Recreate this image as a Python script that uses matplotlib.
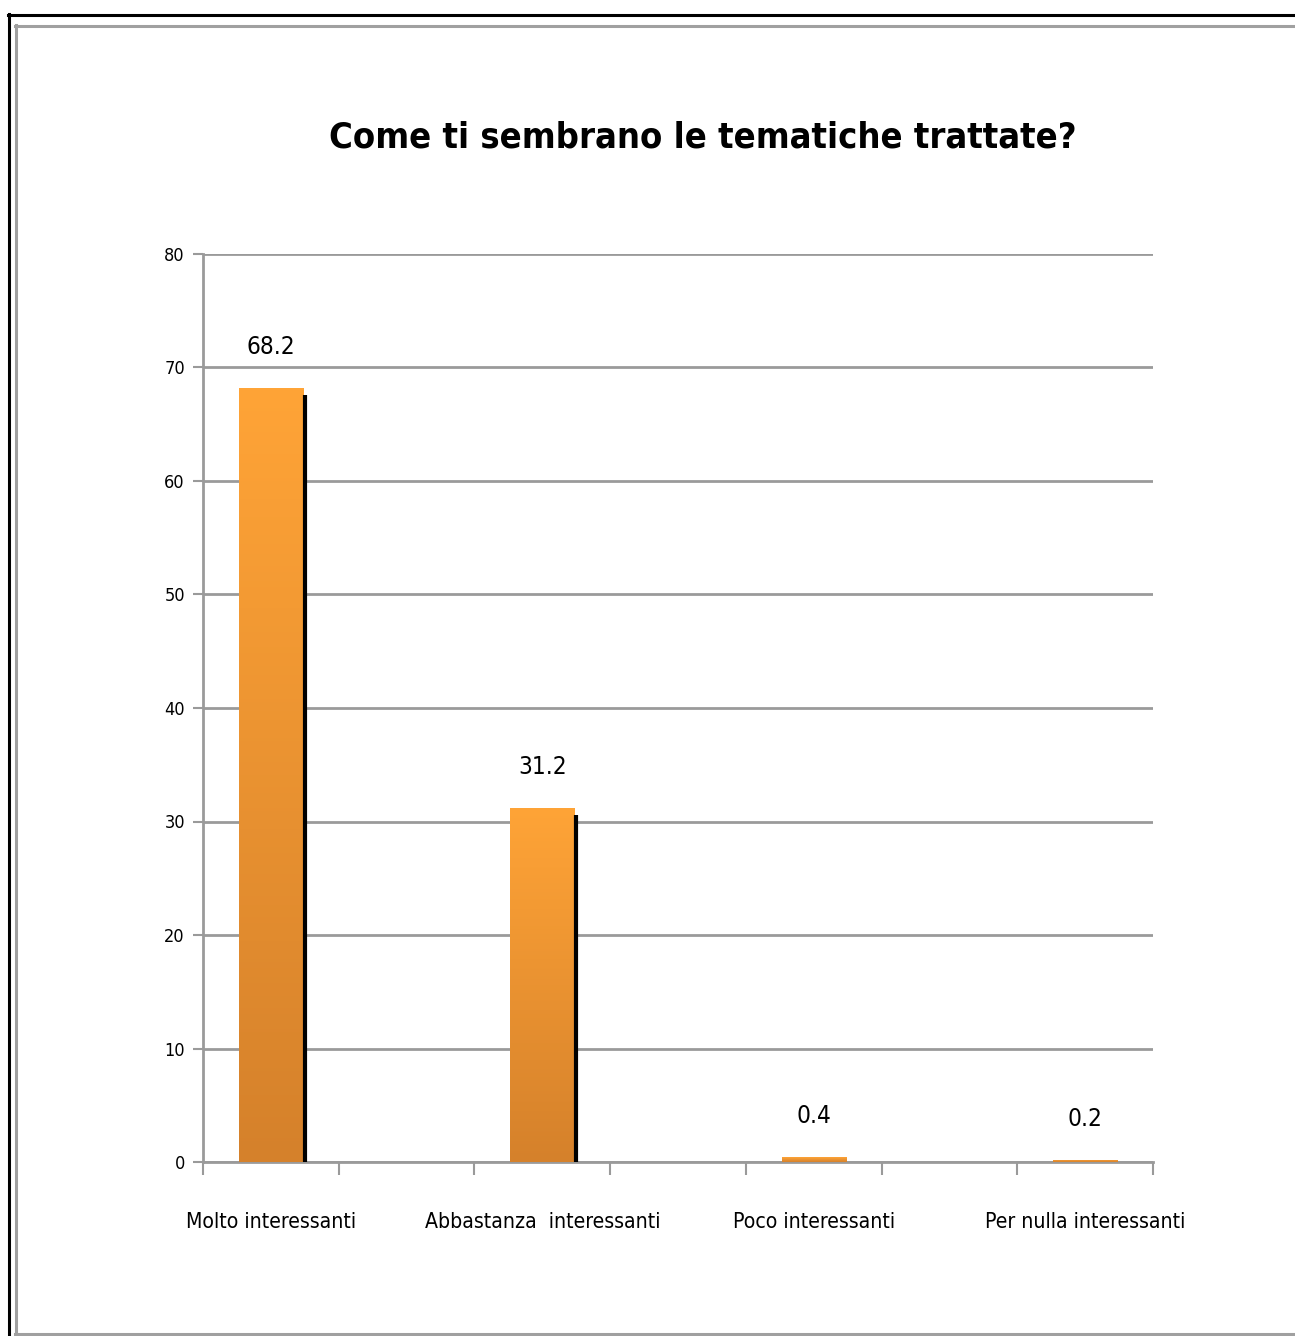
import matplotlib
matplotlib.use("Agg")
import matplotlib.pyplot as plt
import numpy as np
from matplotlib.colors import LinearSegmentedColormap
from matplotlib.lines import Line2D

categories = ["Molto interessanti", "Abbastanza  interessanti", "Poco interessanti", "Per nulla interessanti"]
values = [68.2, 31.2, 0.4, 0.2]
value_labels = ["68.2", "31.2", "0.4", "0.2"]
yticks = [0, 10, 20, 30, 40, 50, 60, 70, 80]
title = "Come ti sembrano le tematiche trattate?"

plt.rcParams['font.family'] = ["DejaVu Sans"]
plt.rcParams['font.stretch'] = 'condensed'

W, H = 1295, 1336
fig = plt.figure(figsize=(W / 100, H / 100), dpi=100)

def hline(y, x0, x1, color):
    fig.add_artist(Line2D([x0 / W, x1 / W], [1 - y / H, 1 - y / H], transform=fig.transFigure,
                          color=color, linewidth=2.2))

def vline(x, y0, y1, color):
    fig.add_artist(Line2D([x / W, x / W], [1 - y0 / H, 1 - y1 / H], transform=fig.transFigure,
                          color=color, linewidth=2.2))

hline(15, 8, 1295, "black")
vline(9, 14, 1336, "black")
hline(26, 15, 1295, "#a0a0a0")
vline(16, 25, 1335, "#a0a0a0")
hline(1334, 15, 1295, "#a0a0a0")

ax = fig.add_axes([203 / W, (H - 1162) / H, (1153 - 203) / W, (1162 - 254) / H])

x = np.arange(len(categories))
bw = 0.236
cmap = LinearSegmentedColormap.from_list("og", ["#d5812b", "#ffa437"])
grad = np.linspace(0, 1, 256).reshape(-1, 1)

bars = ax.bar(x, values, width=bw, color="#f59a35", edgecolor="none", zorder=3)
for b, v in zip(bars, values):
    x0 = b.get_x()
    im = ax.imshow(grad, cmap=cmap, aspect="auto", origin="lower",
                   extent=[x0, x0 + bw, 0, v], zorder=3.1)
    im.set_clip_path(b)
    if v > 5:
        ax.plot([x0 + bw + 0.006, x0 + bw + 0.006], [0, v - 0.6], color="black",
                linewidth=3, solid_capstyle="butt", zorder=3.2)

for xi, v, lab in zip(x, values, value_labels):
    ax.annotate(lab, (xi, v), xytext=(0, 21), textcoords="offset points",
                ha="center", va="bottom", fontsize=17.5)

ax.set_xlim(-0.25, 3.25)
ax.set_ylim(0, 80)
ax.set_yticks(yticks)
ax.set_yticklabels([str(t) for t in yticks], fontsize=13)
ax.yaxis.grid(True, color="#9a9a9a", linewidth=2)
ax.set_axisbelow(True)
ax.set_xticks(np.arange(-0.25, 3.26, 0.5))
ax.set_xticklabels([])
ax.tick_params(axis="x", length=9, width=1.5, color="#9a9a9a", direction="out")
ax.tick_params(axis="y", length=7, width=1.5, color="#9a9a9a", direction="out", pad=6)
for s in ["top", "right"]:
    ax.spines[s].set_visible(False)
for s in ["left", "bottom"]:
    ax.spines[s].set_color("#9a9a9a")
    ax.spines[s].set_linewidth(2)

for xi, c in zip(x, categories):
    ax.text(xi, -5.3, c, ha="center", va="center", fontsize=15.2)

fig.text(703 / W, (H - 137) / H, title, ha="center", va="center", fontsize=26,
         fontweight="bold")

fig.savefig("out.png", dpi=100)
